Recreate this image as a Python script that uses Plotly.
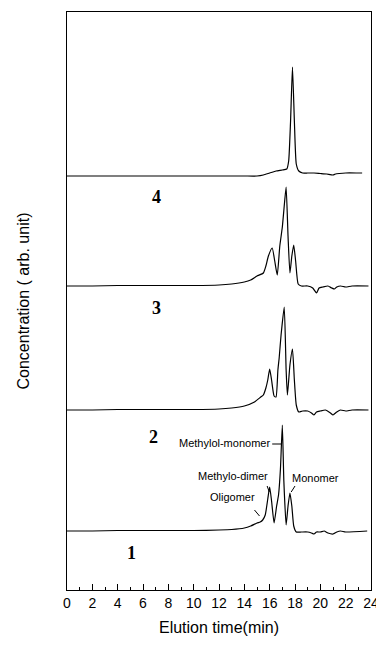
import plotly.graph_objects as go

# Elution time (min) and detector response (arb. unit) for each sample
t1 = [0, 2, 4, 6, 8, 10, 12, 13, 14, 14.5, 15, 15.25, 15.45, 15.65, 15.85, 16.0, 16.15, 16.35,
      16.55, 16.7, 16.85, 17.0, 17.12, 17.3, 17.45, 17.6, 17.75, 17.9, 18.1, 18.5, 19.0, 19.3,
      19.5, 19.7, 20.0, 20.3, 20.6, 21.0, 21.3, 21.6, 22.0, 23.7]
c1 = [0, 0, 0.5, 0.5, 0.5, 0.5, 1, 1.5, 3, 5, 8, 9, 11, 16, 32, 44, 30, 8,
      25, 36, 62, 106, 50, 6, 25, 38, 25, 5, -1, -1, -1, -2,
      -3, -1, -1, 0, -2, -3, -1, 0, -1, 0]

t2 = [0, 2, 4, 6, 8, 10, 12, 13, 14, 14.8, 15.3, 15.5, 15.7, 15.85, 16.0, 16.15, 16.35, 16.5,
      16.65, 16.75, 16.9, 17.15, 17.3, 17.4, 17.6, 17.8, 17.95, 18.1, 18.3, 18.6, 19.0, 19.3,
      19.5, 19.7, 20.0, 20.4, 20.8, 21.0, 21.3, 21.6, 22.0, 22.5, 23.8]
c2 = [0, 0, 0.5, 0.5, 0.5, 0.5, 1, 2, 4, 8, 13, 15, 22, 30, 41, 30, 14, 13,
      40, 52, 75, 103, 40, 15, 45, 61, 30, 5, -2, -1, -1, -3,
      -5, -2, -1, 0, -3, -5, -2, 0, -1, 0, 0]

t3 = [0, 2, 4, 6, 8, 10, 12, 13, 14, 14.5, 15.0, 15.5, 15.7, 15.9, 16.2, 16.4, 16.6, 16.8,
      17.0, 17.15, 17.3, 17.45, 17.6, 17.75, 17.9, 18.05, 18.25, 18.5, 19.0, 19.4, 19.7, 19.9,
      20.2, 20.6, 20.9, 21.1, 21.3, 21.6, 22.0, 22.5, 23.8]
c3 = [0, 0, 0.5, 0.5, 0.5, 0.5, 1, 2, 4, 6, 10, 13, 20, 30, 38, 25, 11, 40,
      59, 80, 99, 50, 13, 30, 41, 25, 2, 0, 0, -2, -7, -2,
      -1, 0, -2, -3, -1, 0, -1, 0, 0]

t4 = [0, 2, 4, 6, 8, 10, 12, 14, 15, 15.5, 16.0, 16.5, 17.0, 17.35, 17.5, 17.65, 17.8, 17.95,
      18.1, 18.3, 18.6, 19.0, 19.5, 20.0, 20.5, 21.0, 21.2, 21.5, 22.0, 23.0, 23.3]
c4 = [0, 0, 0, 0, 0, 0, 0, 0, 0, 1, 3, 5, 6, 7, 15, 55, 109, 55,
      12, 5, 3, 3, 3, 2.5, 2, 1, 2, 2.5, 3, 3, 3]

sample_labels = ["1", "2", "3", "4"]
peak_names = ["Methylol-monomer", "Methylo-dimer", "Oligomer", "Monomer"]
x_ticks = list(range(0, 25, 2))

# vertical stacking of the chromatograms
offsets = [59, 180, 304, 414]

fig = go.Figure()
for t, c, off in zip([t1, t2, t3, t4], [c1, c2, c3, c4], offsets):
    fig.add_trace(go.Scatter(
        x=t, y=[v + off for v in c], mode="lines",
        line=dict(color="black", width=1.2, shape="spline", smoothing=0.5),
        showlegend=False, hoverinfo="skip"))

# sample numbers under each trace
num_pos = [(5.1, 37), (6.8, 153), (7.1, 282), (7.1, 393)]
for lab, (x, y) in zip(sample_labels, num_pos):
    fig.add_annotation(x=x, y=y, text="<b>" + lab + "</b>", showarrow=False,
                       font=dict(family="Liberation Serif", size=18, color="black"))

# peak assignments on trace 1
ann = [
    (peak_names[0], 16.15, 147, "right", [(16.2, 146), (16.95, 146)]),
    (peak_names[1], 13.1, 114, "center", [(15.8, 104), (15.97, 98)]),
    (peak_names[2], 13.1, 93, "center", [(14.8, 80), (15.2, 74)]),
    (peak_names[3], 19.6, 112, "center", [(18.0, 104), (17.7, 98)]),
]
for text, x, y, xa, seg in ann:
    fig.add_annotation(x=x, y=y, text=text, showarrow=False, xanchor=xa,
                       font=dict(family="Liberation Sans", size=11, color="black"))
    (x0, y0), (x1, y1) = seg
    fig.add_shape(type="line", x0=x0, y0=y0, x1=x1, y1=y1,
                  line=dict(color="black", width=1))

fig.update_layout(
    width=376, height=647,
    margin=dict(l=67, r=5, t=12, b=57),
    plot_bgcolor="white", paper_bgcolor="white",
    font=dict(family="Liberation Sans", color="black"),
    xaxis=dict(range=[0, 24.0001], tickmode="array", tickvals=x_ticks,
               ticktext=[str(v) for v in x_ticks], ticklabeloverflow="allow",
               automargin=False,
               ticks="inside", ticklen=6,
               tickcolor="black", showline=True, linecolor="black", linewidth=1,
               mirror=True, showgrid=False, zeroline=False,
               tickfont=dict(size=14),
               minor=dict(dtick=1, tick0=0, ticks="inside", ticklen=3, tickcolor="black"),
               title=dict(text="Elution time(min)", font=dict(size=16), standoff=12)),
    yaxis=dict(range=[0, 578], showticklabels=False, ticks="", showline=True,
               automargin=False,
               linecolor="black", linewidth=1, mirror=True, showgrid=False,
               zeroline=False,
               title=dict(text="Concentration ( arb. unit)", font=dict(size=16),
                          standoff=32)),
)

fig.write_html("out.html")
